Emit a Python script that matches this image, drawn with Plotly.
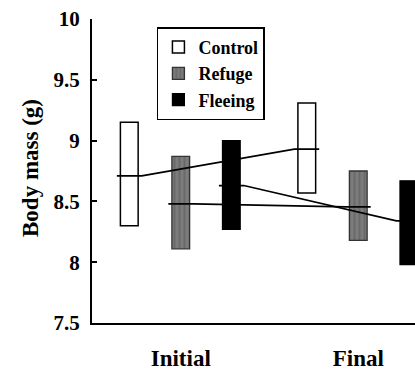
import plotly.graph_objects as go

# ---- data ----
periods = ["Initial", "Final"]
groups = ["Control", "Refuge", "Fleeing"]
control_low = [8.30, 8.57]
control_high = [9.15, 9.31]
control_mean = [8.71, 8.93]
refuge_low = [8.11, 8.18]
refuge_high = [8.87, 8.75]
refuge_mean = [8.48, 8.455]
fleeing_low = [8.27, 7.98]
fleeing_high = [9.00, 8.67]
fleeing_mean = [8.63, 8.34]
y_ticks = [7.5, 8, 8.5, 9, 9.5, 10]
y_tick_text = ["7.5", "8", "8.5", "9", "9.5", "10"]

FONT = "Liberation Serif, Times New Roman, serif"
offsets = {"Control": -0.29, "Refuge": 0.0, "Fleeing": 0.285}
bar_w = 0.1
tick_hw = 0.07

series = {
    "Control": (control_low, control_high, control_mean),
    "Refuge": (refuge_low, refuge_high, refuge_mean),
    "Fleeing": (fleeing_low, fleeing_high, fleeing_mean),
}
styles = {
    "Control": dict(color="white", line=dict(color="black", width=1.5)),
    "Refuge": dict(color="#7c7c7c", line=dict(color="#333333", width=1.3),
                   pattern=dict(shape="|", fgcolor="#555555", size=5, solidity=0.4)),
    "Fleeing": dict(color="black", line=dict(color="black", width=1.2)),
}

def bold(s):
    return "<b>" + s + "</b>"

fig = go.Figure()
for g in groups:
    low, high, mean = series[g]
    xs = [i + offsets[g] for i in range(len(periods))]
    fig.add_trace(go.Bar(
        x=xs, base=low, y=[h - l for h, l in zip(high, low)],
        width=bar_w, name=bold(g), marker=styles[g], showlegend=True,
    ))

for g in groups:
    low, high, mean = series[g]
    xs = [i + offsets[g] for i in range(len(periods))]
    lx, ly = [], []
    for x, m in zip(xs, mean):
        lx += [x - tick_hw, x + tick_hw]
        ly += [m, m]
    fig.add_trace(go.Scatter(x=lx, y=ly, mode="lines",
                             line=dict(color="black", width=1.6),
                             showlegend=False, hoverinfo="skip"))

fig.update_layout(
    width=415, height=371,
    margin=dict(l=92, r=0, t=19, b=37),
    plot_bgcolor="white", paper_bgcolor="white",
    barmode="overlay",
    font=dict(family=FONT, color="black"),
    legend=dict(
        x=0.201, y=0.973, xanchor="left", yanchor="top",
        bgcolor="white", bordercolor="black", borderwidth=1.5,
        font=dict(family=FONT, size=18, color="black"),
        tracegroupgap=0, itemwidth=30,
    ),
    xaxis=dict(
        range=[-0.5, 1.3197], tickvals=list(range(len(periods))),
        ticktext=[bold(p) for p in periods],
        showline=True, linecolor="black", linewidth=2, ticks="", showgrid=False,
        zeroline=False, ticklabelstandoff=13,
        tickfont=dict(family=FONT, size=23, color="black"),
    ),
    yaxis=dict(
        range=[7.5, 10], tickvals=y_ticks, ticktext=[bold(t) for t in y_tick_text],
        showline=True, linecolor="black", linewidth=2, ticks="inside",
        ticklen=5, tickwidth=1.5, tickcolor="black", showgrid=False, zeroline=False,
        ticklabelstandoff=6,
        tickfont=dict(family=FONT, size=21, color="black"),
    ),
    annotations=[dict(
        text=bold("Body mass (g)"), xref="paper", yref="paper", x=0, y=0.5,
        xanchor="center", yanchor="middle", xshift=-62, yshift=3, textangle=-90,
        showarrow=False, font=dict(family=FONT, size=23, color="black"),
    )],
)

fig.write_html("out.html")
